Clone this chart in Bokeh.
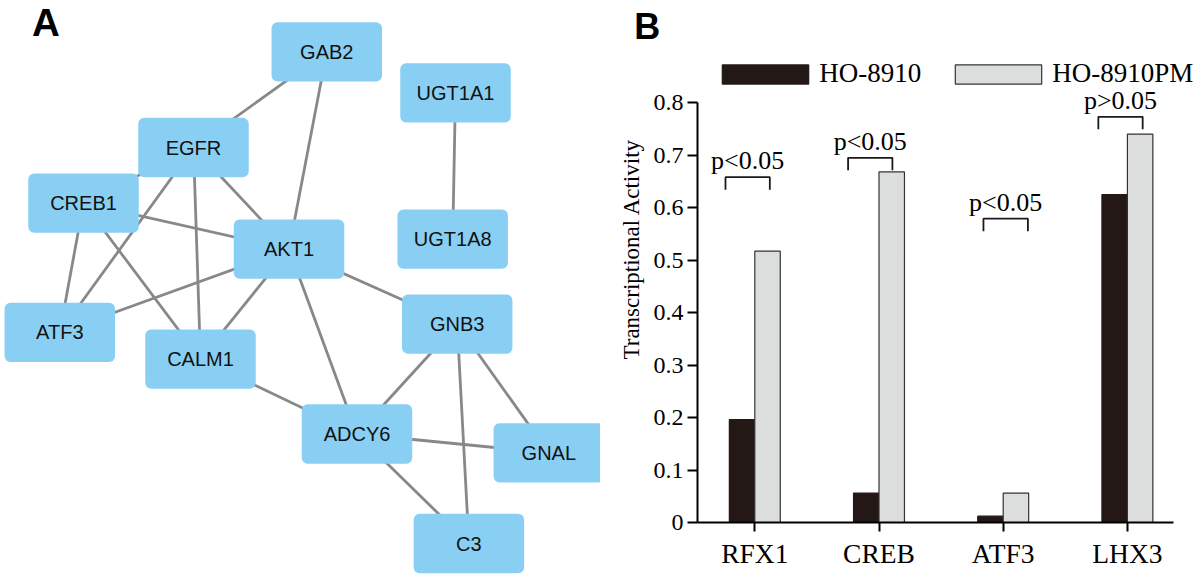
import math
import numpy as np
from bokeh.plotting import figure
from bokeh.models import (Range1d, FixedTicker, Label, Legend, LegendItem,
                          ColumnDataSource)
from bokeh.layouts import row
from bokeh.embed import file_html
from bokeh.resources import INLINE
from bokeh.core.properties import value

# ---------------- Panel A data: protein interaction network ----------------
genes = ["GAB2", "UGT1A1", "EGFR", "CREB1", "AKT1", "UGT1A8",
         "ATF3", "CALM1", "GNB3", "ADCY6", "GNAL", "C3"]
edge_source = ["GAB2", "GAB2", "UGT1A1", "EGFR", "EGFR", "EGFR", "EGFR",
               "CREB1", "CREB1", "CREB1", "AKT1", "AKT1", "AKT1", "AKT1",
               "CALM1", "GNB3", "GNB3", "GNB3", "ADCY6", "ADCY6"]
edge_target = ["EGFR", "AKT1", "UGT1A8", "AKT1", "ATF3", "CALM1", "CREB1",
               "AKT1", "ATF3", "CALM1", "ATF3", "CALM1", "ADCY6", "GNB3",
               "ADCY6", "ADCY6", "C3", "GNAL", "GNAL", "C3"]

# network layout (pixel positions of node centres, y measured downward)
node_layout = {
    "GAB2": (326.3, 51.3), "UGT1A1": (455.0, 92.3), "EGFR": (193.0, 147.0),
    "CREB1": (83.0, 202.7), "AKT1": (288.5, 248.7), "UGT1A8": (452.2, 238.7),
    "ATF3": (59.3, 331.8), "CALM1": (200.0, 358.7), "GNB3": (456.7, 323.7),
    "ADCY6": (356.5, 433.5), "GNAL": (548.3, 452.3), "C3": (468.4, 543.0),
}

# ---------------- Panel B data: transcriptional activity ----------------
categories = ["RFX1", "CREB", "ATF3", "LHX3"]
ho8910 = [0.196, 0.056, 0.012, 0.625]
ho8910pm = [0.517, 0.668, 0.056, 0.740]
series_names = ["HO-8910", "HO-8910PM"]
p_labels = ["p<0.05", "p<0.05", "p<0.05", "p>0.05"]
y_ticks = [0, 0.1, 0.2, 0.3, 0.4, 0.5, 0.6, 0.7, 0.8]
y_tick_labels = ["0", "0.1", "0.2", "0.3", "0.4", "0.5", "0.6", "0.7", "0.8"]

# annotation placement for significance brackets (offsets from category centre)
bracket_top = [0.658, 0.695, 0.579, 0.773]
bracket_left = [-0.236, -0.249, -0.159, -0.234]
bracket_right = [0.121, 0.108, 0.199, 0.123]

SANS = "Liberation Sans"
SERIF = "Liberation Serif"
H = 578

# ======================= Panel A =======================
pA = figure(width=600, height=H, x_range=Range1d(0, 600), y_range=Range1d(0, H),
            x_axis_location=None, y_axis_location=None, output_backend="svg",
            toolbar_location=None, min_border=0)
pA.grid.visible = False
pA.outline_line_color = None

nx = [node_layout[g][0] for g in genes]
ny = [H - node_layout[g][1] for g in genes]

ex0 = [node_layout[a][0] for a in edge_source]
ey0 = [H - node_layout[a][1] for a in edge_source]
ex1 = [node_layout[b][0] for b in edge_target]
ey1 = [H - node_layout[b][1] for b in edge_target]
pA.segment(x0=ex0, y0=ey0, x1=ex1, y1=ey1, line_color="#888888", line_width=2.8)

BW, BH = 110.5, 59.3
node_src = ColumnDataSource(dict(
    left=[x - BW / 2 for x in nx], right=[x + BW / 2 for x in nx],
    bottom=[y - BH / 2 for y in ny], top=[y + BH / 2 for y in ny],
    x=nx, y=ny, name=genes))
try:
    pA.quad(left="left", right="right", bottom="bottom", top="top", source=node_src,
            fill_color="#89CFF3", line_color=None, border_radius=6)
except Exception:
    pA.quad(left="left", right="right", bottom="bottom", top="top", source=node_src,
            fill_color="#89CFF3", line_color=None)

pA.text(x="x", y="y", text="name", source=node_src, text_align="center",
        text_baseline="middle", text_font=value(SANS), text_font_size="20px",
        text_color="#111111")

A_FS = 38.5
pA.add_layout(Label(x=31.5, y=H - (35.5 - 0.35 * A_FS), text="A", text_font=SANS,
                    text_font_size=f"{A_FS}px", text_font_style="bold",
                    text_baseline="middle", text_color="black"))

# ======================= Panel B =======================
PX = 124.2            # pixels per category step
PY = 524.75           # pixels per unit of activity
ZERO_Y = 522          # pixel row of the value 0 (from the top)
XS = 1 - (754.3 - 600) / PX
X_AXIS0 = XS + 97 / PX
X_AXIS1 = X_AXIS0 + 476 / PX

pB = figure(width=600, height=H, x_range=Range1d(XS, XS + 600 / PX),
            y_range=Range1d(-(H - ZERO_Y) / PY, ZERO_Y / PY), output_backend="svg",
            toolbar_location=None, min_border=0)
pB.grid.visible = False
pB.outline_line_color = None

xc = np.arange(1, len(categories) + 1, dtype=float)
BAR_W = 0.205
src = ColumnDataSource(dict(xd=xc - BAR_W / 2, xl=xc + BAR_W / 2,
                            dark=ho8910, light=ho8910pm))
r_dark = pB.vbar(x="xd", top="dark", width=BAR_W, source=src,
                 fill_color="#231815", line_color="#231815", line_width=1.2)
r_light = pB.vbar(x="xl", top="light", width=BAR_W, source=src,
                  fill_color="#dcdddd", line_color="#333333", line_width=1.2)

# axes (drawn at fixed data locations inside the frame)
yax = pB.yaxis[0]
xax = pB.xaxis[0]
yax.fixed_location = X_AXIS0
xax.fixed_location = 0
yax.ticker = FixedTicker(ticks=y_ticks)
yax.major_label_overrides = dict(zip(y_ticks, y_tick_labels))
yax.bounds = (0, 0.8)
xax.bounds = (X_AXIS0, X_AXIS1)
xax.ticker = FixedTicker(ticks=list(xc))
xax.major_label_overrides = {float(x): c for x, c in zip(xc, categories)}
for ax in (xax, yax):
    ax.axis_line_width = 2
    ax.axis_line_color = "black"
    ax.major_tick_line_width = 2
    ax.major_tick_line_color = "black"
    ax.major_tick_in = 0
    ax.minor_tick_line_color = None
    ax.major_label_text_font = SERIF
    ax.major_label_text_color = "black"
yax.major_tick_out = 10
yax.major_label_standoff = 4
yax.major_label_text_font_size = "24px"
xax.major_tick_out = 9
xax.major_label_standoff = 6
xax.major_label_text_font_size = "27.5px"

# y-axis title
pB.add_layout(Label(x=XS + 31 / PX, y=0.521, text="Transcriptional Activity",
                    angle=math.pi / 2, text_align="center", text_baseline="middle",
                    text_font=SERIF, text_font_size="23px", text_color="black"))

# significance brackets
LEG = 12.5 / PY
bxs, bys, tx, ty = [], [], [], []
for c, t, l, r in zip(xc, bracket_top, bracket_left, bracket_right):
    bxs.append([c + l, c + l, c + r, c + r])
    bys.append([t - LEG, t, t, t - LEG])
    tx.append(c + (l + r) / 2)
    ty.append(t + 16.3 / PY)
pB.multi_line(xs=bxs, ys=bys, line_color="#1a1a1a", line_width=1.8)
pB.text(x=tx, y=ty, text=p_labels, text_align="center", text_baseline="middle",
        text_font=value(SERIF), text_font_size="26px", text_color="black")

# legend (area legend glyphs are inset by 10% on each side)
GW, GH = 86 / 0.8, 19 / 0.8
legend = Legend(items=[LegendItem(label=series_names[0], renderers=[r_dark]),
                       LegendItem(label=series_names[1], renderers=[r_light])],
                orientation="horizontal", location=(122 - 0.1 * GW, H - 89),
                glyph_width=round(GW), glyph_height=round(GH), label_height=19,
                label_standoff=-6, spacing=23, padding=0, margin=0,
                border_line_color=None, background_fill_alpha=0,
                label_text_font=SERIF, label_text_font_size="27px",
                label_text_color="black")
pB.add_layout(legend)

pB.add_layout(Label(x=XS + 33.7 / PX, y=(ZERO_Y - (38.3 - 0.35 * 36)) / PY, text="B",
                    text_font=SANS, text_font_size="36px", text_font_style="bold",
                    text_baseline="middle", text_color="black"))

layout = row(pA, pB)
open("out.html", "w").write(file_html(layout, INLINE))
